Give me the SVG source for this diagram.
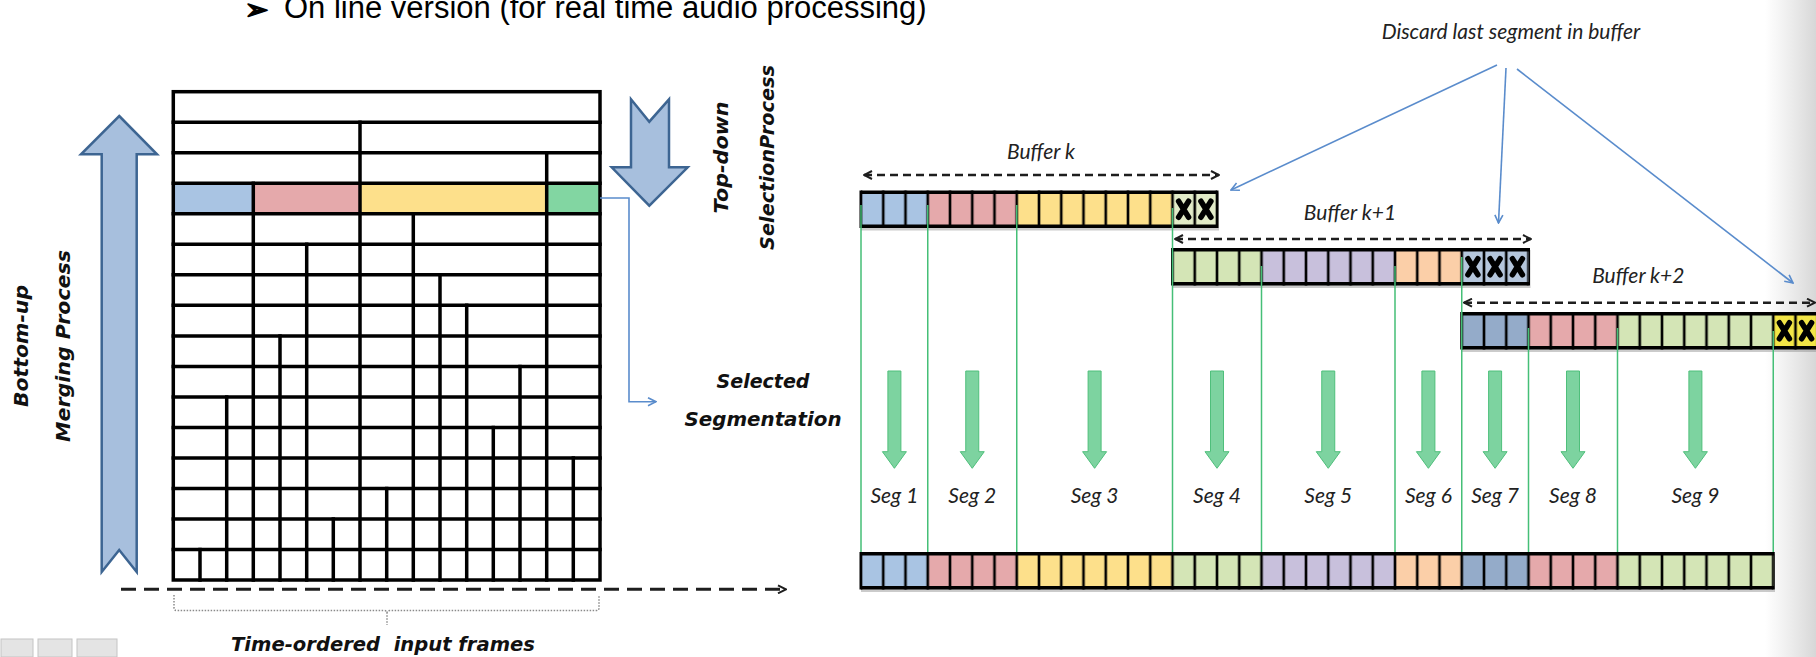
<svg xmlns="http://www.w3.org/2000/svg" xmlns:xlink="http://www.w3.org/1999/xlink" width="1816" height="657" viewBox="0 0 1816 657">
  <style>
    .title { font-family: "Liberation Sans", Arial, sans-serif; font-size: 31px; fill: #000; }
    .bullet { font-family: "DejaVu Sans", sans-serif; font-size: 28px; fill: #000; stroke: #000; stroke-width: 1.6; stroke-linejoin: round; }
    .bi { font-family: "DejaVu Sans", "Liberation Sans", sans-serif; font-weight: bold; font-style: italic; font-size: 20px; fill: #111; }
    .it { font-family: Lato, "Liberation Sans", sans-serif; font-style: italic; font-size: 21px; fill: #222; }
    .grid { fill: none; stroke: #000; stroke-width: 3.5; stroke-linecap: square; }
    .bigarrow { fill: #a7bfdd; stroke: #3d6592; stroke-width: 2.5; stroke-linejoin: miter; }
    .frame { fill: #000; }
    .shadow { fill: #8c8c8c; opacity: 0.45; }
    .blue { fill: #a9c4e3; }
    .steel { fill: #94abc9; }
    .pink { fill: #e5a9ab; }
    .yellow { fill: #fde08b; }
    .lgreen { fill: #d4e5b6; }
    .purple { fill: #c8c0dc; }
    .peach { fill: #fbcfa8; }
    .xg { fill: #e2ebc8; }
    .xb { fill: #b5c6dc; }
    .xy { fill: #f2e547; }
    .segline { stroke: #45bf77; stroke-width: 1.5; fill: none; }
    .garrow { fill: #7dd3a0; stroke: #4fbf7b; stroke-width: 1; }
    .bluelink { fill: none; stroke: #5a8ccc; stroke-width: 1.6; }
    .dash { fill: none; stroke: #1e1e1e; stroke-width: 2.5; stroke-dasharray: 8 5; }
    .axis { fill: none; stroke: #1e1e1e; stroke-width: 3; stroke-dasharray: 15 8; }
    .brace { fill: none; stroke: #8a8a8a; stroke-width: 1.5; stroke-dasharray: 1.5 1.5; }
  </style>
  <defs>
    <marker id="open-blue" viewBox="0 0 10 10" refX="9" refY="5" markerWidth="10" markerHeight="10" markerUnits="userSpaceOnUse" orient="auto-start-reverse">
      <path d="M1,1 L9,5 L1,9" fill="none" stroke="#5a8ccc" stroke-width="1.6"/>
    </marker>
    <marker id="open-black" viewBox="0 0 10 10" refX="9" refY="5" markerWidth="10" markerHeight="10" markerUnits="userSpaceOnUse" orient="auto-start-reverse">
      <path d="M1,1 L9,5 L1,9" fill="none" stroke="#1e1e1e" stroke-width="2" stroke-dasharray="none"/>
    </marker>
    <!-- black separators between frame cells, one every 22.25 px starting at x=861 -->
    <pattern id="cells" patternUnits="userSpaceOnUse" x="861" y="0" width="22.25" height="657">
      <rect x="0" y="0" width="1.3" height="657" fill="#000"/>
      <rect x="20.95" y="0" width="1.3" height="657" fill="#000"/>
    </pattern>
    <!-- heavy cross marking a discarded frame -->
    <symbol id="xmark" overflow="visible">
      <path d="M-5,-8 L5,8 M5,-8 L-5,8" fill="none" stroke="#000" stroke-width="5.5" stroke-linecap="round"/>
    </symbol>
    <!-- green down arrow used for each segment -->
    <symbol id="garrow" overflow="visible">
      <path class="garrow" d="M-6.5,371 H6.5 V451.7 H12 L0,468.3 L-12,451.7 H-6.5 Z"/>
    </symbol>
    <linearGradient id="edge" x1="0" y1="0" x2="1" y2="0">
      <stop offset="0" stop-color="#d4d4d4" stop-opacity="0"/>
      <stop offset="1" stop-color="#cdcdcd" stop-opacity="0.8"/>
    </linearGradient>
  </defs>

  <rect x="0" y="0" width="1816" height="657" fill="#fff"/>
  <!-- shaded right margin of the page -->
  <rect x="1765" y="0" width="51" height="657" fill="url(#edge)"/>

  <!-- heading -->
  <g id="heading">
    <text class="bullet" x="245" y="19">➢</text>
    <text class="title" x="284" y="18">On line version (for real time audio processing)</text>
  </g>

  <!-- bottom-up merging arrow and label -->
  <g id="merge-arrow">
    <path class="bigarrow" d="M119.2,116 L157,154.3 H136.7 V572 L119.2,550 L101.7,572 V154.3 H81 Z"/>
    <text class="bi" transform="translate(28,346) rotate(-90)" text-anchor="middle" textLength="122" lengthAdjust="spacingAndGlyphs">Bottom-up</text>
    <text class="bi" transform="translate(70,346) rotate(-90)" text-anchor="middle" textLength="192" lengthAdjust="spacingAndGlyphs">Merging Process</text>
  </g>

  <!-- segmentation hierarchy grid -->
  <g id="hierarchy">
    <rect class="blue" x="173.3" y="183.3" width="80" height="30.5"/>
    <rect class="pink" x="253.3" y="183.3" width="106.7" height="30.5"/>
    <rect class="yellow" x="360" y="183.3" width="186.7" height="30.5"/>
    <rect fill="#82d6a2" x="546.7" y="183.3" width="53.3" height="30.5"/>
    <rect class="grid" x="173.3" y="91.7" width="426.7" height="488.3"/>
    <path class="grid" d="M173.3,122.2H600 M173.3,152.7H600 M173.3,183.3H600 M173.3,213.8H600 M173.3,244.3H600 M173.3,274.8H600 M173.3,305.3H600 M173.3,335.9H600 M173.3,366.4H600 M173.3,396.9H600 M173.3,427.4H600 M173.3,457.9H600 M173.3,488.4H600 M173.3,519H600 M173.3,549.5H600"/>
    <path class="grid" d="M360,122.2V580 M546.7,152.7V580 M253.3,183.3V580 M413.3,213.8V580 M306.7,244.3V580 M440,274.8V580 M466.7,305.3V580 M280,335.9V580 M520,366.4V580 M226.7,396.9V580 M493.3,427.4V580 M573.3,457.9V580 M386.7,488.4V580 M333.3,519V580 M200,549.5V580"/>
  </g>

  <!-- top-down selection arrow and label -->
  <g id="select-arrow">
    <path class="bigarrow" d="M631,99.3 L649.3,121.7 L669,99.3 V167.3 H687.7 L649.3,205.7 L611.7,167.3 H631 Z"/>
    <text class="bi" transform="translate(728,157.5) rotate(-90)" text-anchor="middle" textLength="112" lengthAdjust="spacingAndGlyphs">Top-down</text>
    <text class="bi" transform="translate(774,157.5) rotate(-90)" text-anchor="middle" textLength="185" lengthAdjust="spacingAndGlyphs">SelectionProcess</text>
  </g>

  <g id="selected-label">
    <text class="bi" x="763" y="388" text-anchor="middle" textLength="93" lengthAdjust="spacingAndGlyphs">Selected</text>
    <text class="bi" x="763" y="426" text-anchor="middle" textLength="157" lengthAdjust="spacingAndGlyphs">Segmentation</text>
  </g>

  <g id="frames-label">
    <text class="bi" x="383" y="651" text-anchor="middle" textLength="304" lengthAdjust="spacingAndGlyphs" xml:space="preserve">Time-ordered  input frames</text>
  </g>

  <!-- buffer k -->
  <g id="buffer-k">
    <rect class="shadow" x="861" y="192.5" width="358" height="38"/>
    <rect class="frame" x="859.5" y="190.5" width="359" height="37.5"/>
    <rect class="blue" x="861" y="194" width="66.75" height="30.5"/>
    <rect class="pink" x="927.75" y="194" width="89" height="30.5"/>
    <rect class="yellow" x="1016.75" y="194" width="155.75" height="30.5"/>
    <rect class="xg" x="1172.5" y="194" width="44.5" height="30.5"/>
    <rect fill="url(#cells)" x="861" y="190.5" width="356" height="37.5"/>
    <use href="#xmark" x="1183.6" y="209.25"/>
    <use href="#xmark" x="1205.9" y="209.25"/>
    <text class="it" x="1041" y="159.3" text-anchor="middle">Buffer k</text>
  </g>

  <!-- buffer k+1 -->
  <g id="buffer-k1">
    <rect class="shadow" x="1172.5" y="250" width="358" height="38"/>
    <rect class="frame" x="1171" y="248" width="359" height="37.5"/>
    <rect class="lgreen" x="1172.5" y="251.5" width="89" height="30.5"/>
    <rect class="purple" x="1261.5" y="251.5" width="133.5" height="30.5"/>
    <rect class="peach" x="1395" y="251.5" width="66.75" height="30.5"/>
    <rect class="xb" x="1461.75" y="251.5" width="66.75" height="30.5"/>
    <rect fill="url(#cells)" x="1172.5" y="248" width="356" height="37.5"/>
    <use href="#xmark" x="1472.9" y="266.75"/>
    <use href="#xmark" x="1495.1" y="266.75"/>
    <use href="#xmark" x="1517.4" y="266.75"/>
    <text class="it" x="1350" y="220" text-anchor="middle">Buffer k+1</text>
  </g>

  <!-- buffer k+2 -->
  <g id="buffer-k2">
    <rect class="shadow" x="1461.75" y="314" width="358" height="38"/>
    <rect class="frame" x="1460.25" y="312" width="359" height="37.5"/>
    <rect class="steel" x="1461.75" y="315.5" width="66.75" height="30.5"/>
    <rect class="pink" x="1528.5" y="315.5" width="89" height="30.5"/>
    <rect class="lgreen" x="1617.5" y="315.5" width="155.75" height="30.5"/>
    <rect class="xy" x="1773.25" y="315.5" width="44.5" height="30.5"/>
    <rect fill="url(#cells)" x="1461.75" y="312" width="356" height="37.5"/>
    <use href="#xmark" x="1784.4" y="330.75"/>
    <use href="#xmark" x="1806.6" y="330.75"/>
    <text class="it" x="1638.3" y="283.3" text-anchor="middle">Buffer k+2</text>
  </g>

  <!-- final segmented stream -->
  <g id="output-stream">
    <rect class="shadow" x="861" y="554" width="914" height="38"/>
    <rect class="frame" x="859.5" y="552" width="915.25" height="37.5"/>
    <rect class="blue" x="861" y="555.5" width="66.75" height="30.5"/>
    <rect class="pink" x="927.75" y="555.5" width="89" height="30.5"/>
    <rect class="yellow" x="1016.75" y="555.5" width="155.75" height="30.5"/>
    <rect class="lgreen" x="1172.5" y="555.5" width="89" height="30.5"/>
    <rect class="purple" x="1261.5" y="555.5" width="133.5" height="30.5"/>
    <rect class="peach" x="1395" y="555.5" width="66.75" height="30.5"/>
    <rect class="steel" x="1461.75" y="555.5" width="66.75" height="30.5"/>
    <rect class="pink" x="1528.5" y="555.5" width="89" height="30.5"/>
    <rect class="lgreen" x="1617.5" y="555.5" width="155.75" height="30.5"/>
    <rect fill="url(#cells)" x="861" y="552" width="912.25" height="37.5"/>
  </g>

  <!-- segment labels -->
  <g id="segments">
    <text class="it" x="894.4" y="503" text-anchor="middle">Seg 1</text>
    <text class="it" x="972.25" y="503" text-anchor="middle">Seg 2</text>
    <text class="it" x="1094.6" y="503" text-anchor="middle">Seg 3</text>
    <text class="it" x="1217" y="503" text-anchor="middle">Seg 4</text>
    <text class="it" x="1328.25" y="503" text-anchor="middle">Seg 5</text>
    <text class="it" x="1428.4" y="503" text-anchor="middle">Seg 6</text>
    <text class="it" x="1495.1" y="503" text-anchor="middle">Seg 7</text>
    <text class="it" x="1573" y="503" text-anchor="middle">Seg 8</text>
    <text class="it" x="1695.4" y="503" text-anchor="middle">Seg 9</text>
  </g>

  <g id="discard-label">
    <text class="it" x="1511" y="39" text-anchor="middle">Discard last segment in buffer</text>
  </g>

  <!-- connectors -->
  <g id="connectors">
    <path class="bluelink" d="M600,198 H629 V401.7 H656" marker-end="url(#open-blue)"/>
    <path class="axis" d="M121,589.3 H786" marker-end="url(#open-black)"/>
    <path class="brace" d="M174,595 V608 Q174,610.5 177,610.5 H384 Q387,610.5 387,613 V625 M387,613 Q387,610.5 390,610.5 H596 Q599,610.5 599,608 V595"/>
    <path class="dash" d="M864,175 H1219" marker-start="url(#open-black)" marker-end="url(#open-black)"/>
    <path class="dash" d="M1175,239 H1531" marker-start="url(#open-black)" marker-end="url(#open-black)"/>
    <path class="dash" d="M1464,302.7 H1815" marker-start="url(#open-black)" marker-end="url(#open-black)"/>
    <path class="bluelink" d="M1497,65 L1231,190" marker-end="url(#open-blue)"/>
    <path class="bluelink" d="M1506,68 L1498.5,223" marker-end="url(#open-blue)"/>
    <path class="bluelink" d="M1517,69 L1793,283" marker-end="url(#open-blue)"/>
    <path class="segline" d="M861,205 V552 M927.75,205 V552 M1016.75,205 V552 M1172.5,208 V552 M1261.5,266 V552 M1395,266 V552 M1461.75,257 V552 M1528.5,328 V552 M1617.5,328 V552 M1773.25,331 V552"/>
    <use href="#garrow" x="894.4"/>
    <use href="#garrow" x="972.25"/>
    <use href="#garrow" x="1094.6"/>
    <use href="#garrow" x="1217"/>
    <use href="#garrow" x="1328.25"/>
    <use href="#garrow" x="1428.4"/>
    <use href="#garrow" x="1495.1"/>
    <use href="#garrow" x="1573"/>
    <use href="#garrow" x="1695.4"/>
  </g>

  <!-- small toolbar buttons at the lower left -->
  <g id="toolbar">
    <rect x="1" y="639" width="32" height="18" fill="#e4e4e4" stroke="#c4c4c4"/>
    <rect x="38" y="639" width="34" height="18" fill="#e4e4e4" stroke="#c4c4c4"/>
    <rect x="77" y="639" width="40" height="18" fill="#e4e4e4" stroke="#c4c4c4"/>
  </g>
</svg>
